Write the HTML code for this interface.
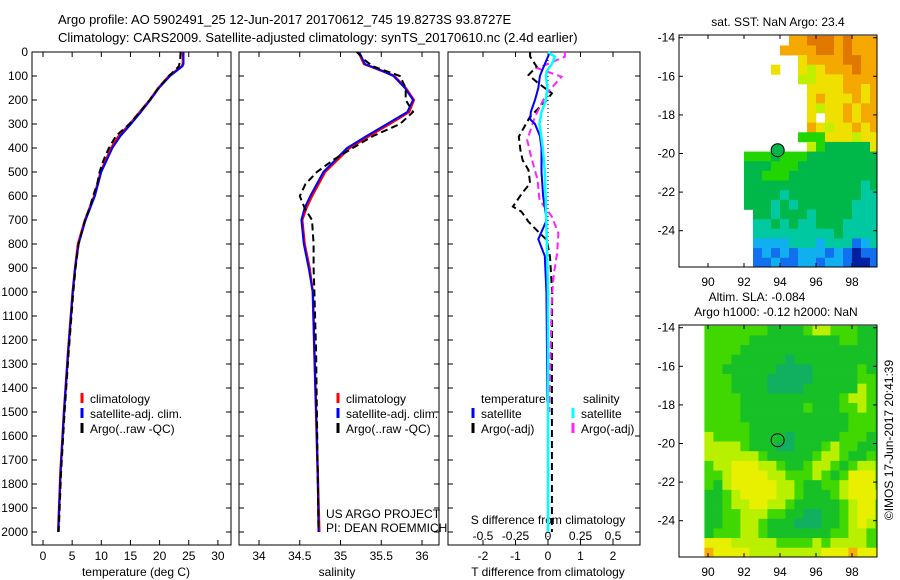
<!DOCTYPE html>
<html><head><meta charset="utf-8"><style>
body{margin:0;background:#fff;}
svg{display:block;font-family:"Liberation Sans",sans-serif;}
</style></head><body>
<svg id="fig" width="900" height="580" viewBox="0 0 900 580" xmlns="http://www.w3.org/2000/svg">
<text x="58" y="24" font-size="13">Argo profile: AO 5902491_25 12-Jun-2017 20170612_745 19.8273S 93.8727E</text>
<text x="58" y="42" font-size="13">Climatology: CARS2009. Satellite-adjusted climatology: synTS_20170610.nc (2.4d earlier)</text>
<g id="g"></g>
</svg>
<script>
// ---- data ----
const tempDepth=[0,50,60,100,150,200,250,300,350,400,500,600,700,800,900,1000,1250,1500,1750,2000];
const tempClim=[24.0,24.0,23.8,21.6,19.8,18.3,16.6,14.9,13.0,11.7,9.9,8.8,7.2,6.0,5.5,5.1,4.3,3.6,3.0,2.6];
const tempSat=[24.1,24.1,23.9,21.8,19.9,18.4,16.8,15.1,13.3,11.9,10.0,8.9,7.3,6.1,5.5,5.1,4.3,3.6,3.0,2.6];
const argoDepth=[0,40,60,100,150,200,250,300,350,400,450,500,550,600,650,700,800,900,1000,1250,1500,1750,2000];
const tempArgo=[23.6,23.5,23.3,21.6,19.8,18.3,16.6,14.8,12.5,11.3,10.4,9.7,9.3,8.6,8.0,7.2,6.1,5.6,5.2,4.4,3.7,3.1,2.7];
const salDepth=[0,50,80,100,150,200,250,300,350,400,500,600,650,700,800,900,1000,1250,1500,1750,2000];
const salClim=[35.22,35.29,35.52,35.66,35.80,35.90,35.84,35.60,35.35,35.11,34.81,34.65,34.58,34.53,34.56,34.62,34.66,34.68,34.70,34.72,34.74];
const salSat=[35.23,35.30,35.52,35.65,35.79,35.89,35.82,35.57,35.32,35.08,34.79,34.63,34.56,34.52,34.55,34.61,34.66,34.68,34.70,34.72,34.73];
const salArgo=[35.20,35.32,35.40,35.73,35.80,35.80,35.89,35.73,35.40,35.15,34.91,34.71,34.57,34.50,34.56,34.65,34.67,34.67,34.68,34.70,34.71,34.72,34.73];
const dTDepth=[0,50,100,150,200,250,280,300,350,400,500,600,700,780,850,1000,1250,1460];
const dTSat=[0.06,-0.1,-0.25,-0.3,-0.4,-0.53,-0.55,-0.4,-0.25,-0.2,-0.2,-0.15,-0.04,-0.3,-0.1,-0.05,-0.03,-0.02];
const dSDepth=[0,20,50,80,100,150,200,250,300,400,500,700,1000,1500,2000];
const dSSat=[0,0.054,0.03,-0.01,-0.015,-0.005,-0.015,-0.05,-0.065,-0.04,-0.025,-0.013,0,0,0];
const dTArgoDepth=[0,19,61,96,130,172,207,269,353,408,450,492,547,589,644,665,707,749,783,853,1006,1250,1500,1750,2000];
const dTArgo=[-0.55,-0.55,-0.35,-0.6,-0.3,0.12,-0.08,-0.55,-0.9,-0.85,-0.78,-0.6,-0.55,-0.8,-1.08,-0.82,-0.6,-0.3,-0.04,0.06,0.13,0.12,0.12,0.12,0.12];
const dSArgoDepth=[0,19,68,103,172,269,367,436,533,617,686,756,839,922,1019,1250,1500];
const dSArgo=[0.13,0.13,-0.08,0.105,-0.01,-0.1,-0.16,-0.13,-0.08,-0.065,0.03,0.08,0.07,0.045,0.03,0.02,0.01];
const depthTicks=[0,100,200,300,400,500,600,700,800,900,1000,1100,1200,1300,1400,1500,1600,1700,1800,1900,2000];
const tempTicks=[0,5,10,15,20,25,30];
const salTicks=[34,34.5,35,35.5,36];
const salTickLabels=["34","34.5","35","35.5","36"];
const dTTicks=[-2,-1,0,1,2];
const dSTicks=[-0.5,-0.25,0,0.25,0.5];
const dSTickLabels=["-0.5","-0.25","0","0.25","0.5"];
const latTicks=[-14,-16,-18,-20,-22,-24];
const lonTicks=[90,92,94,96,98];
const sstRows=[
"............OOoooOoOOO",
"...........OOOOooOoOOO",
".............yOOOOooOO",
"..........y..yYyOOOoOO",
".............YYyyyOOOO",
"..............yyyyOOyO",
"..............yOyyyOyO",
"..............yYyyOyOO",
"..............y.yyOyOO",
"..............OyYyyOyO",
".............gggyyyYyy",
"..............YgGGGGGy",
".......gggGgggGGGGGGGG",
".......GGGgggGGGGGGGGG",
".......GGgggGGGGGGGGGG",
".......GGGGGGGGGGGGGtG",
".......GGGGtGGGGGGGGtt",
".......GGGtGtGGGGGGttt",
"........GGtGGGtGGGGttt",
"........ttGtGttGGGtttt",
"........tttttttttGtttt",
"........cccctttctttbct",
"........bcbcbcccbcbBbb",
"........bbcbbccbccbBBb",
"........bb.bcbcccbcbbb"];
const slaRows=[
"gggggggGGGGgYYgggGGG",
"gggggGGGGGGGGGGggGGG",
"ggggGGGGGGGGGGGGGGGG",
"gggGGGGGGtGGGGGGGGGG",
"ggGGGGGGttttGGGGGgGG",
"gggGGGGtttttGGGGGggG",
"gggGGGGttttGGGGGGYgG",
"ggggGGGGGGGGGGGgYYgG",
"ggggGGGGGGGgGGGggYgG",
"ggggGGGGGGGGGGGGgggG",
"gggggGGGGGGGGGGGgggG",
"YggggGGGGtGGGGGgggGG",
"YYYYgGGGttGGGgYggGGG",
"YYYYYYgGGGGGgYYgGGgG",
"gYYyyyYYgGGgYYgGgYYg",
"ggYyyyyYYgggYgGgyyyg",
"gGYyyyyyYYgGGggYyyyg",
"GGgYyyyyYYgGGGgYyyyY",
"GGgYYyyYYgGGGGGgYyyg",
"GGggYYYggGGttGGgYyyg",
"GGggYYgGGGtttGGgYyYg",
"GgggYYgGGGGGGGggYYgg",
"yyyYYYYYggggYgYYYYgg",
"OyyyyYYYYYYYYyyyOyyy",
"OOyyyyyyYYYYyyyOOyyy"];
const argoLon=93.87, argoLat=-19.83;

// ---- drawing ----
const NS="http://www.w3.org/2000/svg";
const G=document.getElementById('g');
function el(tag,attrs,parent){const e=document.createElementNS(NS,tag);for(const k in attrs)e.setAttribute(k,attrs[k]);(parent||G).appendChild(e);return e;}
const dY=d=>52+d*0.24;
const tX=v=>43+v*5.83;
const sX=v=>259+(v-34)*81.5;
const dtX=v=>548+v*32.5;
const dsX=v=>548+v*130;
const FS=12;

function line(xs,ys,xf,color,dash,name,w){
  const pts=xs.map((v,i)=>xf(v).toFixed(1)+','+dY(ys[i]).toFixed(1)).join(' ');
  const p=el('polyline',{points:pts,fill:'none',stroke:color,'stroke-width':w||2});
  if(dash)p.setAttribute('stroke-dasharray',dash);
  
  
  return p;
}
function panel(x0,x1,name){
  const r=el('rect',{x:x0,y:52,width:x1-x0,height:493,fill:'none',stroke:'#000','stroke-width':1});
  
  
  depthTicks.forEach(d=>{
    el('line',{x1:x0,x2:x0+5,y1:dY(d),y2:dY(d),stroke:'#000'});
    el('line',{x1:x1-5,x2:x1,y1:dY(d),y2:dY(d),stroke:'#000'});
  });
}
function xticks(vals,labels,xf,y,name,top){
  vals.forEach((v,i)=>{
    el('line',{x1:xf(v),x2:xf(v),y1:545,y2:540,stroke:'#000'});
    if(top) el('line',{x1:xf(v),x2:xf(v),y1:52,y2:57,stroke:'#000'});
    const t=el('text',{x:xf(v),y:y,'font-size':FS,'text-anchor':'middle'});
    t.textContent=labels[i];
    
    
  });
}
function txt(x,y,s,name,opt){
  const t=el('text',Object.assign({x:x,y:y,'font-size':FS},opt||{}));
  t.textContent=s;
  
  
  return t;
}
function legend(x,y,color,label,name,dash){
  const l=el('line',{x1:x,x2:x,y1:y-10,y2:y,stroke:color,'stroke-width':3});
  
  
  txt(x+8,y,label,name);
}

// Panel 1 temperature
panel(32,231,'temperature-panel');
depthTicks.forEach(d=>{txt(28,dY(d)+4,String(d),'depth-tick-label',{'text-anchor':'end'});});
xticks(tempTicks,tempTicks.map(String),tX,560,'temperature-tick-label',true);
txt(136,576,'temperature (deg C)','temperature-axis-title',{'text-anchor':'middle'});
line(tempClim,tempDepth,tX,'#ff0000',null,'temperature-climatology-line',2.5);
line(tempSat,tempDepth,tX,'#0000ff',null,'temperature-satellite-line',2);
line(tempArgo,argoDepth,tX,'#000',"7,4",'temperature-argo-line',2);
legend(82,403,'#ff0000','climatology','legend-climatology');
legend(82,418,'#0000ff','satellite-adj. clim.','legend-satellite');
legend(82,433,'#000','Argo(..raw -QC)','legend-argo');

// Panel 2 salinity
panel(239,439,'salinity-panel');
xticks(salTicks,salTickLabels,sX,560,'salinity-tick-label',true);
txt(337,576,'salinity','salinity-axis-title',{'text-anchor':'middle'});
line(salClim,salDepth,sX,'#ff0000',null,'salinity-climatology-line',2.5);
line(salSat,salDepth,sX,'#0000ff',null,'salinity-satellite-line',2);
line(salArgo,argoDepth,sX,'#000',"7,4",'salinity-argo-line',2);
legend(338,403,'#ff0000','climatology','legend-climatology');
legend(338,418,'#0000ff','satellite-adj. clim.','legend-satellite');
legend(338,433,'#000','Argo(..raw -QC)','legend-argo');
txt(326,518,'US ARGO PROJECT','credit-project');
txt(326,532,'PI: DEAN ROEMMICH','credit-pi');

// Panel 3 differences
panel(448,640,'difference-panel');
el('line',{x1:548,x2:548,y1:52,y2:545,stroke:'#000','stroke-dasharray':'1,3'});
xticks(dTTicks,dTTicks.map(String),dtX,560,'t-diff-tick-label',true);
dSTicks.forEach((v,i)=>{txt(dsX(v),540,dSTickLabels[i],'s-diff-tick-label',{'text-anchor':'middle'});});
txt(548,524,'S difference from climatology','s-diff-axis-title',{'text-anchor':'middle'});
txt(548,576,'T difference from climatology','t-diff-axis-title',{'text-anchor':'middle'});
line(dTArgo,dTArgoDepth,dtX,'#000',"7,4",'t-diff-argo-line',2);
line(dSArgo,dSArgoDepth,dsX,'#ff22ff',"7,4",'s-diff-argo-line',2);
line(dTSat,dTDepth,dtX,'#0000ff',null,'t-diff-satellite-line',2);
line(dSSat,dSDepth,dsX,'#00ffff',null,'s-diff-satellite-line',2.5);
txt(481,403,'temperature','legend-temperature-header');
legend(473,418,'#0000ff','satellite','legend-t-satellite');
legend(473,433,'#000','Argo(-adj)','legend-t-argo');
txt(583,403,'salinity','legend-salinity-header');
legend(573,418,'#00ffff','satellite','legend-s-satellite');
legend(573,433,'#ff22ff','Argo(-adj)','legend-s-argo');

// Maps
const cmap={o:'#e07800',O:'#f5a800',y:'#f0e000',Y:'#c0f000',g:'#22d400',G:'#00b84a',t:'#00c8a0',c:'#10b0f0',b:'#1070f0',B:'#0020a0'};
const cmap2={O:'#f5b000',y:'#e8f000',Y:'#b8f000',g:'#40d800',G:'#18c028',t:'#10b060'};
function map(top,rows,lon0,cols,name,title){
  const lonX=l=>708+(l-90)*18;
  const latY=a=>top+2.7+(-14-a)*19.3;
  const cid='clip'+top;
  const cp=el('clipPath',{id:cid});
  el('rect',{x:679,y:top,width:198,height:232},cp);
  const g=el('g',{'clip-path':'url(#'+cid+')'});
  
  
  rows.forEach((r,j)=>{
    for(let i=0;i<r.length;i++){
      const ch=r[i]; if(ch==='.')continue;
      const lon=lon0+0.5*i, lat=-13.9-0.5*j;
      el('rect',{x:lonX(lon),y:latY(lat),width:9.3,height:10,fill:cols[ch]},g);
    }
  });
  const b=el('rect',{x:679,y:top,width:198,height:232,fill:'none',stroke:'#000'});
  
  
  latTicks.forEach(a=>{
    el('line',{x1:679,x2:683,y1:latY(a),y2:latY(a),stroke:'#000'});
    el('line',{x1:873,x2:877,y1:latY(a),y2:latY(a),stroke:'#000'});
    txt(675,latY(a)+4,String(a),'latitude-tick-label',{'text-anchor':'end'});
  });
  lonTicks.forEach(l=>{
    el('line',{x1:lonX(l),x2:lonX(l),y1:top,y2:top+4,stroke:'#000'});
    el('line',{x1:lonX(l),x2:lonX(l),y1:top+228,y2:top+232,stroke:'#000'});
    txt(lonX(l),top+251,String(l),'longitude-tick-label',{'text-anchor':'middle'});
  });
  const c=el('circle',{cx:lonX(argoLon),cy:latY(argoLat),r:6.5,fill:top<100?'#00b84a':'none',stroke:'#000','stroke-width':1});
  
  
  return {lonX,latY};
}
txt(778,26,'sat. SST: NaN Argo: 23.4','sst-map-title',{'text-anchor':'middle'});
map(35,sstRows,88.5,cmap,'sst-map');
txt(757,301,'Altim. SLA: -0.084','sla-map-title',{'text-anchor':'middle'});
txt(776,316,'Argo h1000: -0.12 h2000: NaN','sla-map-subtitle',{'text-anchor':'middle'});
map(325,slaRows,89.8,cmap2,'sla-map');
txt(0,0,'©IMOS 17-Jun-2017 20:41:39','imos-timestamp',{'text-anchor':'middle',transform:'translate(893,440) rotate(-90)'});
</script>
</body></html>
